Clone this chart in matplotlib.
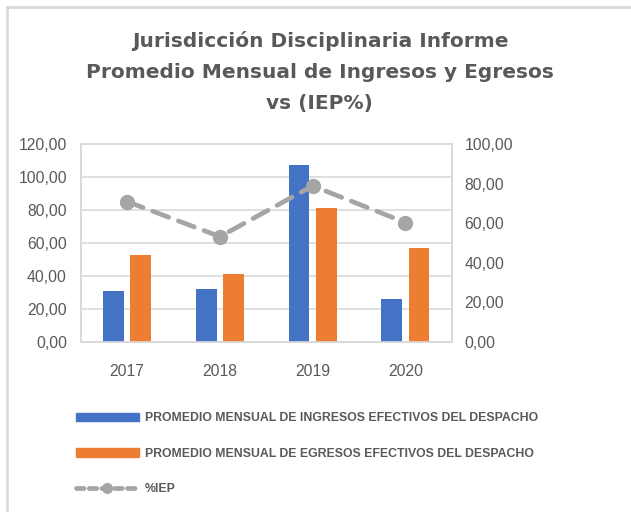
import numpy as np
import matplotlib.pyplot as plt
from matplotlib.ticker import FuncFormatter, MultipleLocator
from matplotlib.lines import Line2D
from matplotlib.patches import Patch

plt.rcParams['font.family'] = ['Liberation Sans', 'DejaVu Sans']

years = ['2017', '2018', '2019', '2020']
ingresos = [30.7, 32.1, 107.2, 26.1]
egresos = [52.7, 41.2, 81.2, 57.2]
iep = [70.9, 53.2, 78.8, 60.3]

title_lines = ['Jurisdicción Disciplinaria Informe',
               'Promedio Mensual de Ingresos y Egresos',
               'vs (IEP%)']
lbl_ing = 'PROMEDIO MENSUAL DE INGRESOS EFECTIVOS DEL DESPACHO'
lbl_egr = 'PROMEDIO MENSUAL DE EGRESOS EFECTIVOS DEL DESPACHO'
lbl_iep = '%IEP'

blue = '#4472C4'
orange = '#ED7D31'
gray = '#A5A5A5'
txt = '#595959'

fig = plt.figure(figsize=(6.31, 5.12), dpi=100)
ax = fig.add_axes([0.128, 0.332, 0.588, 0.387])
ax2 = ax.twinx()

x = np.arange(len(years))
w = 0.225
ax.bar(x - 0.147, ingresos, w, color=blue, zorder=3)
ax.bar(x + 0.147, egresos, w, color=orange, zorder=3)

ax2.plot(x, iep, color=gray, lw=3.4, dashes=(3.6, 2.2), dash_capstyle='round',
         marker='o', markersize=10, zorder=4)

ax.set_xlim(-0.5, 3.5)
ax.set_ylim(0, 120)
ax2.set_ylim(0, 100)
ax.yaxis.set_major_locator(MultipleLocator(20))
ax2.yaxis.set_major_locator(MultipleLocator(20))
fmt = FuncFormatter(lambda v, p: ('%.2f' % v).replace('.', ','))
ax.yaxis.set_major_formatter(fmt)
ax2.yaxis.set_major_formatter(fmt)
ax.set_xticks(x)
ax.set_xticklabels(years)

ax.grid(axis='y', color='#D9D9D9', lw=1.2, zorder=0)
for a in (ax, ax2):
    a.tick_params(length=0, labelsize=11.3, labelcolor=txt)
    for s in a.spines.values():
        s.set_color('#D9D9D9')
        s.set_linewidth(1.2)
ax.tick_params(axis='x', pad=16)
ax.tick_params(axis='y', pad=10)
ax2.tick_params(axis='y', pad=9)

# title, one text per line (wide bold face)
for i, line in enumerate(title_lines):
    fig.text(0.507, 1 - (47 + 31 * i) / 512, line, ha='center', va='baseline',
             fontsize=14.5, fontweight='bold', color=txt, family='DejaVu Sans')

handles = [Patch(color=blue), Patch(color=orange),
           Line2D([], [], color=gray, lw=3.4, dashes=(1.6, 1.1), dash_capstyle='round',
                  marker='o', markersize=7)]
leg = fig.legend(handles, [lbl_ing, lbl_egr, lbl_iep], loc='upper left',
                 bbox_to_anchor=(0.112, 0.204), frameon=False,
                 prop={'size': 8.8, 'weight': 'bold'}, labelcolor=txt,
                 handlelength=5.2, handleheight=0.7, handletextpad=0.5,
                 labelspacing=1.9, borderaxespad=0)

# outer chart border (left and top edges visible)
fig.add_artist(Line2D([7 / 631, 7 / 631], [0, 1 - 7 / 512], color='#D9D9D9', lw=2))
fig.add_artist(Line2D([7 / 631, 1], [1 - 7 / 512, 1 - 7 / 512], color='#D9D9D9', lw=2))

fig.savefig('out.png', dpi=100)
